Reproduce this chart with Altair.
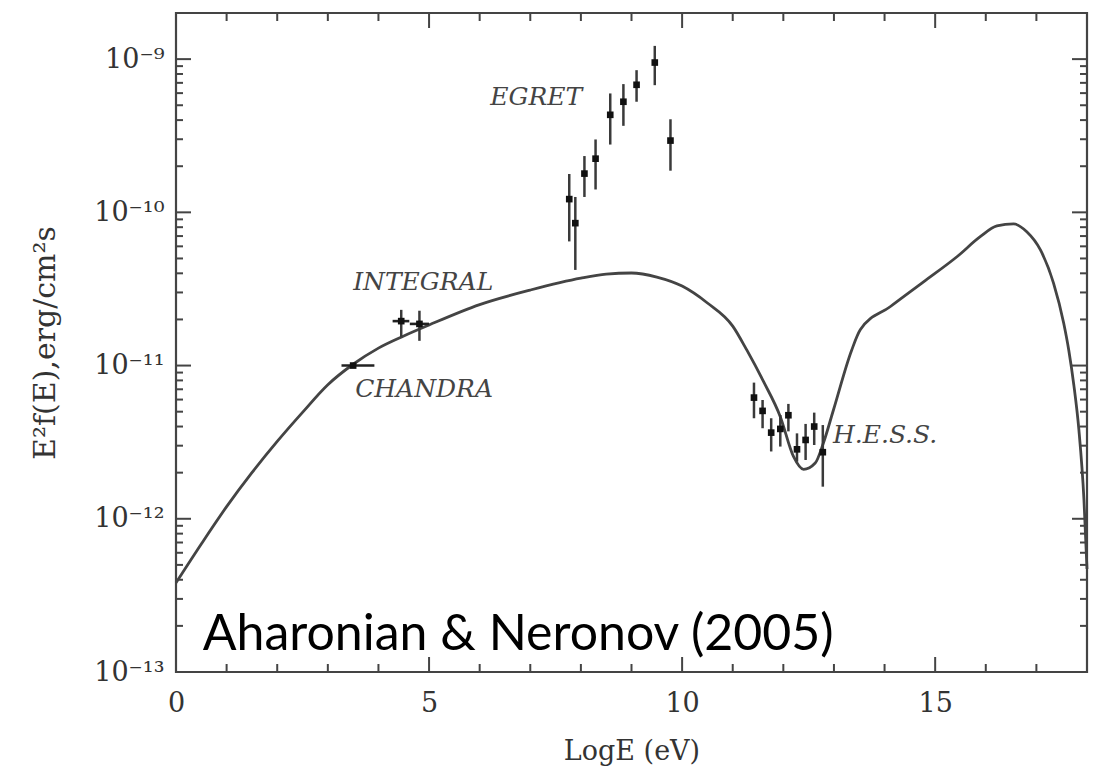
import altair as alt
import pandas as pd

# ---------------- data ----------------
curve_x = [0, 0.5, 1, 1.5, 2, 2.5, 3, 3.5, 4, 4.5, 5, 6, 7, 8, 8.5, 9, 9.5, 10, 10.5, 11,
           11.28, 11.61, 11.94, 12.2, 12.4, 12.63, 12.79, 12.99, 13.35, 13.52, 14.11, 14.77,
           15.43, 15.89, 16.22, 16.55, 16.81, 17.08, 17.34, 17.54, 17.64, 17.74, 17.84, 17.94, 18.0]
curve_y = [3.82e-13, 6.85e-13, 1.20e-12, 2.00e-12, 3.20e-12, 4.95e-12, 7.50e-12, 1.02e-11,
           1.30e-11, 1.56e-11, 1.84e-11, 2.50e-11, 3.11e-11, 3.72e-11, 3.95e-11, 4.02e-11,
           3.78e-11, 3.30e-11, 2.56e-11, 1.81e-11, 1.26e-11, 7.85e-12, 4.64e-12, 2.55e-12,
           2.10e-12, 2.31e-12, 3.11e-12, 5.13e-12, 1.26e-11, 1.71e-11, 2.42e-11, 3.52e-11,
           5.13e-11, 6.93e-11, 8.15e-11, 8.40e-11, 7.47e-11, 5.68e-11, 3.44e-11, 1.89e-11,
           1.26e-11, 7.46e-12, 3.80e-12, 1.33e-12, 4.70e-13]

egret_x = [7.77, 7.89, 8.07, 8.29, 8.58, 8.84, 9.10, 9.46, 9.77]
egret_y = [1.22e-10, 8.5e-11, 1.79e-10, 2.24e-10, 4.33e-10, 5.27e-10, 6.8e-10, 9.5e-10, 2.94e-10]
egret_lo = [6.46e-11, 4.21e-11, 1.26e-10, 1.41e-10, 2.77e-10, 3.67e-10, 5.27e-10, 6.76e-10, 1.87e-10]
egret_hi = [1.78e-10, 1.26e-10, 2.33e-10, 2.99e-10, 5.97e-10, 6.87e-10, 8.47e-10, 1.22e-9, 4.05e-10]

integral_x = [4.45, 4.81]
integral_y = [1.95e-11, 1.87e-11]
integral_lo = [1.53e-11, 1.45e-11]
integral_hi = [2.31e-11, 2.28e-11]
integral_xlo = [4.28, 4.62]
integral_xhi = [4.61, 5.0]

chandra_x = [3.5]
chandra_y = [1.0e-11]
chandra_xlo = [3.27]
chandra_xhi = [3.92]

hess_x = [11.42, 11.59, 11.76, 11.94, 12.10, 12.27, 12.44, 12.61, 12.78]
hess_y = [6.18e-12, 5.06e-12, 3.65e-12, 3.86e-12, 4.74e-12, 2.84e-12, 3.27e-12, 4.0e-12, 2.72e-12]
hess_lo = [4.53e-12, 3.90e-12, 2.75e-12, 2.96e-12, 3.72e-12, 2.36e-12, 2.42e-12, 3.03e-12, 1.62e-12]
hess_hi = [7.74e-12, 5.96e-12, 4.53e-12, 4.76e-12, 5.62e-12, 3.61e-12, 4.16e-12, 4.93e-12, 4.09e-12]

x_tick_values = [0, 5, 10, 15]
x_minor_ticks = [1, 2, 3, 4, 6, 7, 8, 9, 11, 12, 13, 14, 16, 17]
y_tick_values = [1e-13, 1e-12, 1e-11, 1e-10, 1e-9]
y_tick_labels = ["10⁻¹³", "10⁻¹²", "10⁻¹¹", "10⁻¹⁰", "10⁻⁹"]
y_minor_ticks = [k * 10.0 ** e for e in range(-13, -9) for k in range(2, 10)]

ann_labels = ["EGRET", "INTEGRAL", "CHANDRA", "H.E.S.S."]
ann_x = [6.21, 3.50, 3.54, 12.98]
ann_y = [5.01e-10, 3.11e-11, 6.24e-12, 3.13e-12]

credit_label = ["Aharonian & Neronov (2005)"]
credit_x = [0.53]
credit_y = [1.40e-13]

# ---------------- chart ----------------
W, H = 911, 659
xs = alt.Scale(domain=[0, 18], nice=False, zero=False)
ys = alt.Scale(type="log", domain=[1e-13, 2e-9], nice=False)

label_expr = " : ".join(
    f"datum.value < {v * 3:g} ? '{lab}'" for v, lab in zip(y_tick_values[:-1], y_tick_labels[:-1])
) + f" : '{y_tick_labels[-1]}'"

SERIF = "DejaVu Serif"
INK = "#333333"

x_axis = alt.Axis(values=x_tick_values, ticks=False, tickSize=0, domain=False, grid=False,
                  labelFont=SERIF, labelFontSize=27, labelColor=INK, labelPadding=18,
                  labelFlush=False,
                  title="LogE (eV)", titleFont=SERIF, titleFontSize=27, titleFontWeight="normal",
                  titleColor=INK, titleY=79, titleBaseline="middle")
y_axis = alt.Axis(values=y_tick_values, labelExpr=label_expr, ticks=False, tickSize=0,
                  domain=False, grid=False, labelFont=SERIF, labelFontSize=27, labelColor=INK,
                  labelPadding=12, labelFlush=False,
                  title="E²f(E),erg/cm²s", titleFont=SERIF, titleFontSize=30,
                  titleFontWeight="normal", titleColor=INK, titleX=-131, titleBaseline="middle")

curve_df = pd.DataFrame({"x": curve_x, "y": curve_y})
curve = alt.Chart(curve_df).mark_line(color="#444", strokeWidth=2.8, interpolate="monotone").encode(
    x=alt.X("x:Q", scale=xs, axis=x_axis),
    y=alt.Y("y:Q", scale=ys, axis=y_axis),
)


def vbars(xv, lo, hi):
    df = pd.DataFrame({"x": xv, "lo": lo, "hi": hi})
    return alt.Chart(df).mark_rule(color="#3a3a3a", strokeWidth=2.5).encode(
        x=alt.X("x:Q", scale=xs), y=alt.Y("lo:Q", scale=ys), y2="hi:Q")


def hbars(yv, xlo, xhi):
    df = pd.DataFrame({"y": yv, "xlo": xlo, "xhi": xhi})
    return alt.Chart(df).mark_rule(color="#222", strokeWidth=2.6).encode(
        x=alt.X("xlo:Q", scale=xs), x2="xhi:Q", y=alt.Y("y:Q", scale=ys))


def pts(xv, yv):
    df = pd.DataFrame({"x": xv, "y": yv})
    return alt.Chart(df).mark_square(color="#111", size=44, opacity=1).encode(
        x=alt.X("x:Q", scale=xs), y=alt.Y("y:Q", scale=ys))


layers = [
    curve,
    vbars(egret_x, egret_lo, egret_hi), pts(egret_x, egret_y),
    vbars(integral_x, integral_lo, integral_hi), hbars(integral_y, integral_xlo, integral_xhi),
    pts(integral_x, integral_y),
    hbars(chandra_y, chandra_xlo, chandra_xhi), pts(chandra_x, chandra_y),
    vbars(hess_x, hess_lo, hess_hi), pts(hess_x, hess_y),
]

# frame ticks (inward)
xmaj = pd.DataFrame({"x": x_tick_values[1:]})
xmin = pd.DataFrame({"x": x_minor_ticks})
ymaj = pd.DataFrame({"y": y_tick_values[1:]})
ymin = pd.DataFrame({"y": y_minor_ticks})
TK = dict(color="#444", strokeWidth=2)
for df, ln in ((xmaj, 15), (xmin, 8)):
    layers.append(alt.Chart(df).mark_rule(**TK).encode(
        x=alt.X("x:Q", scale=xs), y=alt.value(H), y2=alt.value(H - ln)))
    layers.append(alt.Chart(df).mark_rule(**TK).encode(
        x=alt.X("x:Q", scale=xs), y=alt.value(0), y2=alt.value(ln)))
for df, ln in ((ymaj, 15), (ymin, 7)):
    layers.append(alt.Chart(df).mark_rule(**TK).encode(
        y=alt.Y("y:Q", scale=ys), x=alt.value(0), x2=alt.value(ln)))
    layers.append(alt.Chart(df).mark_rule(**TK).encode(
        y=alt.Y("y:Q", scale=ys), x=alt.value(W), x2=alt.value(W - ln)))

ann_df = pd.DataFrame({"label": ann_labels, "x": ann_x, "y": ann_y})
layers.append(alt.Chart(ann_df).mark_text(
    align="left", baseline="alphabetic", font=SERIF, fontStyle="italic", fontSize=25,
    color="#444").encode(x=alt.X("x:Q", scale=xs), y=alt.Y("y:Q", scale=ys), text="label:N"))

credit_df = pd.DataFrame({"label": credit_label, "x": credit_x, "y": credit_y})
layers.append(alt.Chart(credit_df).mark_text(
    align="left", baseline="alphabetic", font="Lato", fontSize=50, color="#000").encode(
    x=alt.X("x:Q", scale=xs), y=alt.Y("y:Q", scale=ys), text="label:N"))

chart = alt.layer(*layers).properties(
    width=W, height=H,
    autosize=alt.AutoSizeParams(type="none"),
    padding={"left": 168, "top": 5, "right": 20, "bottom": 95},
    background="white",
).configure_view(stroke="#444", strokeWidth=2.2)

chart.save("out.html", embed_options={"renderer": "svg", "actions": False})
